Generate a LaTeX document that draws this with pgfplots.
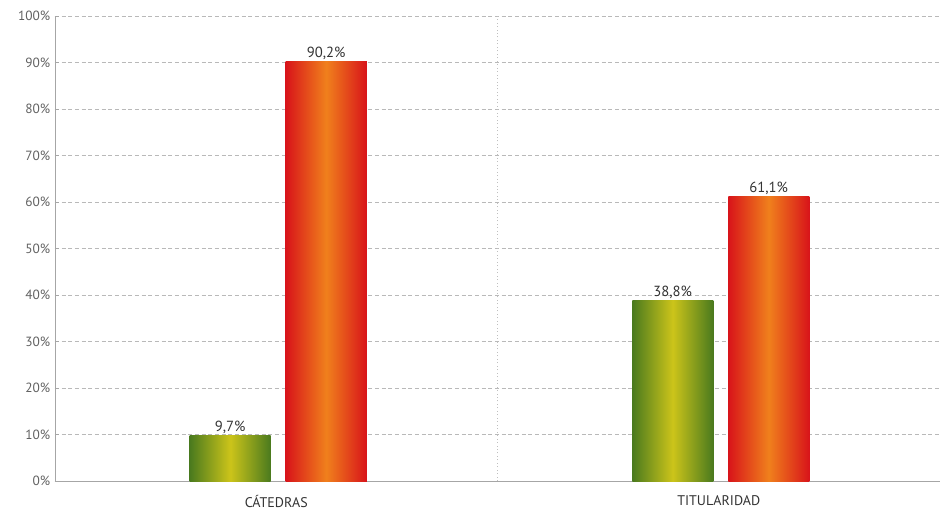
\documentclass[border=0pt]{standalone}
\usepackage{fontspec}
\setmainfont{PT Sans}
\usepackage{pgfplots}
\pgfplotsset{compat=1.18}
\definecolor{gdark}{HTML}{4A7A1E}
\definecolor{glight}{HTML}{CCC41A}
\definecolor{rdark}{HTML}{D8141A}
\definecolor{rlight}{HTML}{F0801C}
\definecolor{tickgray}{HTML}{606060}
\begin{document}
\begin{tikzpicture}
\begin{axis}[
  at={(0,0)}, anchor=south west,
  scale only axis,
  width=663.75pt, height=348.75pt,
  xmin=-0.5, xmax=1.5, ymin=0, ymax=100,
  ybar, bar width=60.75pt,
  xtick={0,1}, xticklabels={CÁTEDRAS,TITULARIDAD},
  ytick={0,10,...,100},
  yticklabel={\pgfmathprintnumber[assume math mode=true]{\tick}\%},
  axis x line*=bottom, axis y line*=left,
  axis line style={draw=gray!70, line width=0.6pt},
  tick style={draw=gray!70},
  major tick length=3pt,
  ymajorgrids, grid style={draw=gray!55, densely dashed, line width=0.4pt},
  yticklabel style={font=\fontsize{10}{12}\selectfont, text=tickgray},
  xticklabel style={font=\fontsize{10.5}{12}\selectfont, text=black!80, yshift=-4pt},
  xtick style={draw=none},
  nodes near coords,
  point meta=explicit symbolic,
  every node near coord/.append style={font=\fontsize{11}{13}\selectfont, text=black!80, yshift=-2pt},
  clip=false,
]
\draw[gray!50, dotted, line width=0.6pt] (axis cs:0.5,0) -- (axis cs:0.5,100);
\addplot[draw=none, bar shift=-34.5pt, left color=gdark, right color=gdark, middle color=glight] coordinates {(0,9.7) [9,7\%]};
\addplot[draw=none, bar shift=37.5pt, left color=rdark, right color=rdark, middle color=rlight] coordinates {(0,90.2) [90,2\%]};
\addplot[draw=none, bar shift=-34.5pt, left color=gdark, right color=gdark, middle color=glight] coordinates {(1,38.8) [38,8\%]};
\addplot[draw=none, bar shift=37.5pt, left color=rdark, right color=rdark, middle color=rlight] coordinates {(1,61.1) [61,1\%]};
\end{axis}
\pgfresetboundingbox
\useasboundingbox (-41.25pt,-25.5pt) rectangle (663.75pt,360.75pt);
\end{tikzpicture}
\end{document}
